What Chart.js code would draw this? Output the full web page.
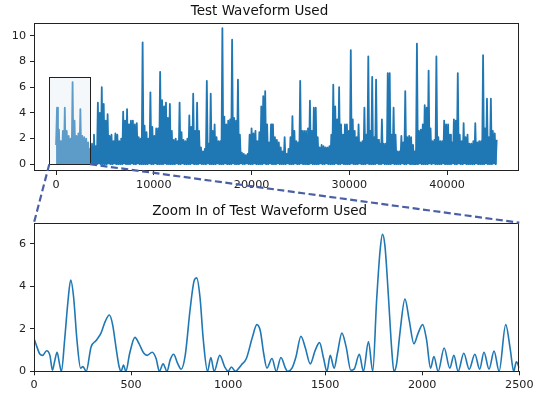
<!DOCTYPE html>
<html>
<head>
<meta charset="utf-8">
<script src="https://cdn.jsdelivr.net/npm/chart.js@4.4.1/dist/chart.umd.min.js"></script>
<style>
  html, body { margin: 0; padding: 0; background: #fff; }
  #wrap { position: relative; width: 540px; height: 397px; }
  #wrap canvas { position: absolute; left: 0; top: 0; }
</style>
</head>
<body>
<div id="wrap">
  <canvas id="waveCanvas" width="540" height="397"></canvas>
  <canvas id="zoomCanvas" width="540" height="397"></canvas>
</div>
<script>
const waveTitle = "Test Waveform Used";
const zoomTitle = "Zoom In of Test Waveform Used";

const waveBinWidth = 199;
const wavePeaks = [
  4.4, 2.7, 1.8, 2.6, 4.4, 2.6, 2.2, 2.0, 6.4, 3.4,
  2.2, 2.4, 4.3, 2.2, 2.1, 2.0, 1.7, 1.2, 1.6, 2.3,
  1.4, 4.8, 4.0, 6.0, 4.7, 3.4, 3.9, 2.2, 2.3, 1.8,
  2.4, 2.3, 1.8, 2.0, 4.1, 3.4, 4.3, 3.1, 3.4, 3.4,
  3.1, 3.2, 2.1, 2.0, 9.5, 3.0, 2.5, 2.0, 5.6, 2.9,
  2.2, 2.8, 2.8, 7.2, 5.0, 4.5, 4.8, 3.6, 4.7, 2.6,
  1.9, 2.0, 1.8, 4.8, 2.5, 1.9, 1.8, 2.0, 3.8, 2.9,
  5.5, 2.6, 4.8, 2.6, 1.3, 1.0, 1.2, 6.5, 1.6, 5.5,
  2.6, 3.1, 2.1, 1.8, 1.8, 10.6, 3.7, 3.1, 3.4, 3.5,
  9.7, 3.6, 3.4, 6.6, 2.3, 0.9, 0.8, 0.7, 0.8, 2.3,
  2.8, 2.4, 2.6, 1.8, 2.5, 4.5, 5.3, 5.7, 3.1, 1.7,
  3.1, 3.1, 2.1, 1.9, 1.7, 1.3, 1.0, 2.1, 0.8, 1.2,
  2.1, 3.75, 2.6, 1.8, 1.7, 6.5, 2.6, 2.6, 2.6, 2.8,
  4.95, 2.6, 4.4, 4.4, 2.1, 1.3, 1.5, 1.4, 1.3, 1.3,
  1.4, 2.3, 6.2, 4.5, 3.5, 6.0, 3.1, 2.3, 3.1, 3.1,
  2.6, 8.9, 3.5, 2.6, 2.1, 3.1, 1.7, 1.8, 4.4, 2.3,
  8.4, 2.6, 6.8, 2.1, 6.6, 1.9, 1.6, 3.5, 1.6, 1.6,
  7.1, 7.1, 2.3, 4.4, 2.3, 1.0, 1.0, 2.2, 1.7, 5.7,
  2.1, 2.2, 2.1, 1.5, 1.0, 9.4, 2.6, 2.7, 3.1, 4.6,
  4.4, 7.3, 2.8, 1.8, 1.9, 8.4, 2.1, 1.8, 1.8, 3.4,
  3.1, 3.1, 2.3, 1.7, 3.5, 3.4, 7.1, 2.3, 1.8, 3.2,
  2.1, 2.3, 1.6, 1.6, 1.8, 3.2, 1.7, 1.8, 1.8, 8.5,
  2.8, 5.1, 2.1, 5.1, 2.6, 2.4, 1.9
];
const waveDips = [
  1.5, 0, 0, 0.1, 0, 0, 0, 0.1, 0, 0,
  0, 0.1, 0, 0, 0, 0, 0.1, 0, 0, 0,
  0, 0, 0.1, 0, 0, 0, 0, 0.1, 0, 0,
  0.1, 0, 0, 0, 0, 0.1, 0, 0, 0, 0.1,
  0, 0, 0.1, 0, 0, 0, 0, 0, 0.1, 0,
  0, 0.1, 0, 0, 0, 0, 0.1, 0, 0, 0,
  0, 0, 0.1, 0, 0, 0.1, 0, 0, 0, 0,
  0.1, 0, 0, 0, 0.1, 0, 0, 0, 0.1, 0,
  0, 0, 0, 0.1, 0, 0, 0, 0.1, 0, 0,
  0, 0.1, 0, 0, 0, 0.1, 0, 0, 0.1, 0,
  0, 0, 0.1, 0, 0, 0, 0, 0.1, 0, 0,
  0.1, 0, 0, 0, 0.1, 0, 0, 0, 0, 0.1,
  0, 0, 0, 0.1, 0, 0, 0.1, 0, 0, 0,
  0, 0.1, 0, 0, 0, 0, 0.1, 0, 0, 0.1,
  0, 0, 0, 0, 0.1, 0, 0, 0.1, 0, 0,
  0, 0, 0.1, 0, 0, 0, 0.1, 0, 0, 0,
  0.1, 0, 0, 0, 0, 0.1, 0, 0, 0.1, 0,
  0, 0, 0, 0.1, 0, 0, 0, 0, 0.1, 0,
  0, 0.1, 0, 0, 0, 0, 0, 0.1, 0, 0,
  0, 0, 0.1, 0, 0.1, 0, 0, 0, 0, 0.1,
  0, 0, 0, 0, 0.1, 0, 0, 0.1, 0, 0,
  0.1, 0, 0, 0, 0, 0, 0.1, 0, 0, 0,
  0, 0.1, 0, 0, 0, 0.1, 0
];
const waveXTicks = [0, 10000, 20000, 30000, 40000];
const waveYTicks = [0, 2, 4, 6, 8, 10];

// the zoomed-in stretch, samples 0 - 2500
const zoomX = [
  0, 15, 31, 44, 65, 82, 95, 107, 119, 131,
  141, 158, 175, 189, 204, 221, 240, 252, 269, 294,
  320, 345, 367, 388, 405, 422, 439, 449, 461, 473,
  493, 520, 541, 566, 583, 609, 629, 646, 665, 685,
  702, 719, 741, 758, 779, 804, 826, 838, 855, 872,
  894, 911, 928, 957, 983, 1000, 1017, 1037, 1068, 1094,
  1125, 1148, 1166, 1183, 1200, 1226, 1248, 1272, 1295, 1306,
  1329, 1350, 1375, 1398, 1423, 1449, 1471, 1492, 1509, 1526,
  1546, 1563, 1586, 1608, 1632, 1649, 1676, 1697, 1723, 1745,
  1765, 1783, 1795, 1808, 1826, 1843, 1854, 1868, 1885, 1911,
  1933, 1957, 1979, 2002, 2022, 2043, 2060, 2082, 2113, 2142,
  2163, 2185, 2214, 2242, 2271, 2296, 2318, 2344, 2370, 2396,
  2430, 2454, 2471, 2485, 2500
];
const zoomY = [
  1.55, 1.15, 0.8, 0.75, 0.97, 0.75, 0.05, 0.5, 0.9, 0.37,
  0, 1.5, 3.3, 4.3, 3.5, 1.5, 0.15, 0.22, 0, 1.15,
  1.45, 1.8, 2.35, 2.65, 2.2, 1.15, 0.2, 0, 0.3, 0,
  0.85, 1.6, 1.3, 0.85, 0.75, 0.9, 0.6, 0, 0.35, 0,
  0.55, 0.8, 0.35, 0.1, 0.75, 2.9, 4.3, 4.4, 3.5, 1.5,
  0, 0.65, 0, 0.75, 0.2, 0, 0.2, 0, 0.3, 0.6,
  1.6, 2.2, 1.9, 0.85, 0.15, 0.6, 0, 0.65, 0.15, 0,
  0.15, 0.7, 1.65, 1.1, 0.35, 1.0, 1.35, 0.6, 0, 0.75,
  0.15, 0.85, 1.8, 1.15, 0.05, 0.1, 0.8, 0, 1.4, 0,
  3.35, 5.7, 6.45, 5.9, 3.5, 1.0, 0, 0.35, 1.8, 3.4,
  2.4, 1.3, 1.8, 2.2, 1.5, 0.15, 0.7, 0, 1.1, 0.15,
  0.75, 0, 0.85, 0.1, 0.8, 0.1, 0.9, 0.1, 0.95, 0,
  2.2, 1.0, 0, 0.45, 0.15
];
const zoomXTicks = [0, 500, 1000, 1500, 2000, 2500];
const zoomYTicks = [0, 2, 4, 6];

// box marking the zoomed area on the top plot (data units)
const insetX = [-690, 3480];
const insetY = [0, 6.8];

Chart.defaults.font.family = "'DejaVu Sans', sans-serif";
Chart.defaults.color = "#222";

const LINE = "#1f77b4";
const INK = "#222";

const wavePoints = [];
wavePeaks.forEach((p, i) => {
  wavePoints.push({ x: i * waveBinWidth, y: waveDips[i] });
  wavePoints.push({ x: i * waveBinWidth + waveBinWidth / 2, y: p });
});
const zoomPoints = zoomX.map((x, i) => ({ x: x, y: zoomY[i] }));

// matplotlib-style box round the axes
const frame = {
  id: "frame",
  afterDatasetsDraw(chart) {
    const a = chart.chartArea;
    const ctx = chart.ctx;
    ctx.save();
    ctx.strokeStyle = INK;
    ctx.lineWidth = 1;
    ctx.strokeRect(Math.round(a.left) + 0.5, Math.round(a.top) + 0.5,
      Math.round(a.right - a.left) - 1, Math.round(a.bottom - a.top) - 1);
    ctx.restore();
  }
};

const insetBox = {
  id: "insetBox",
  afterDatasetsDraw(chart) {
    const x = chart.scales.x, y = chart.scales.y, ctx = chart.ctx;
    const l = x.getPixelForValue(insetX[0]), r = x.getPixelForValue(insetX[1]);
    const t = y.getPixelForValue(insetY[1]), b = y.getPixelForValue(insetY[0]);
    ctx.save();
    ctx.fillStyle = "rgba(225,232,242,0.32)";
    ctx.fillRect(l, t, r - l, b - t);
    ctx.strokeStyle = INK;
    ctx.lineWidth = 1;
    ctx.strokeRect(Math.round(l) + 0.5, Math.round(t) + 0.5, Math.round(r - l), Math.round(b - t));
    ctx.restore();
  }
};

function axes(xTicks, yTicks, xMin, xMax, yMin, yMax) {
  const tickSide = { drawOnChartArea: false, drawTicks: true, tickLength: 4, tickColor: INK, lineWidth: 1 };
  return {
    x: {
      type: "linear", min: xMin, max: xMax,
      grid: tickSide, border: { display: false },
      afterBuildTicks: s => { s.ticks = xTicks.map(v => ({ value: v })); },
      afterFit: s => { s.height = 20; },
      ticks: { autoSkip: false, maxRotation: 0, padding: 3, font: { size: 11.2 }, callback: v => String(v) }
    },
    y: {
      type: "linear", min: yMin, max: yMax,
      grid: tickSide, border: { display: false },
      afterBuildTicks: s => { s.ticks = yTicks.map(v => ({ value: v })); },
      afterFit: s => { s.width = 34; },
      ticks: { padding: 4, font: { size: 11.2 }, callback: v => String(v) }
    }
  };
}

function titleOpts(text) {
  return {
    display: true, text: text, color: "#111",
    font: { size: 13.5, weight: "normal" },
    padding: { top: 3, bottom: 3.5 }
  };
}

const waveChart = new Chart(document.getElementById("waveCanvas"), {
  type: "line",
  data: {
    datasets: [{
      data: wavePoints,
      borderColor: LINE,
      backgroundColor: LINE,
      fill: "origin",
      borderWidth: 1.8,
      borderJoinStyle: "round",
      pointRadius: 0,
      tension: 0
    }]
  },
  options: {
    responsive: false,
    animation: false,
    parsing: false,
    layout: { padding: { left: 0, right: 21, top: 0, bottom: 206 } },
    plugins: { legend: { display: false }, tooltip: { enabled: false }, title: titleOpts(waveTitle) },
    scales: axes(waveXTicks, waveYTicks, -2255, 47355, -0.53, 11.03)
  },
  plugins: [insetBox, frame]
});

// dashed lines from the marked box down to the zoomed plot
const connectors = {
  id: "connectors",
  afterDraw(chart) {
    const ws = waveChart.scales;
    const a = chart.chartArea, ctx = chart.ctx;
    const y0 = ws.y.getPixelForValue(insetY[0]);
    ctx.save();
    ctx.strokeStyle = "#4a5fa6";
    ctx.lineWidth = 2.2;
    ctx.setLineDash([7, 3.5]);
    ctx.beginPath();
    ctx.moveTo(ws.x.getPixelForValue(insetX[0]), y0);
    ctx.lineTo(a.left, a.top);
    ctx.moveTo(ws.x.getPixelForValue(insetX[1]), y0);
    ctx.lineTo(a.right, a.top);
    ctx.stroke();
    ctx.restore();
  }
};

new Chart(document.getElementById("zoomCanvas"), {
  type: "line",
  data: {
    datasets: [{
      data: zoomPoints,
      borderColor: LINE,
      borderWidth: 1.6,
      borderJoinStyle: "round",
      pointRadius: 0,
      cubicInterpolationMode: "monotone"
    }]
  },
  options: {
    responsive: false,
    animation: false,
    parsing: false,
    layout: { padding: { left: 0, right: 20.7, top: 200, bottom: 5.7 } },
    plugins: { legend: { display: false }, tooltip: { enabled: false }, title: titleOpts(zoomTitle) },
    scales: axes(zoomXTicks, zoomYTicks, 0, 2500, 0, 7)
  },
  plugins: [frame, connectors]
});
</script>
</body>
</html>
